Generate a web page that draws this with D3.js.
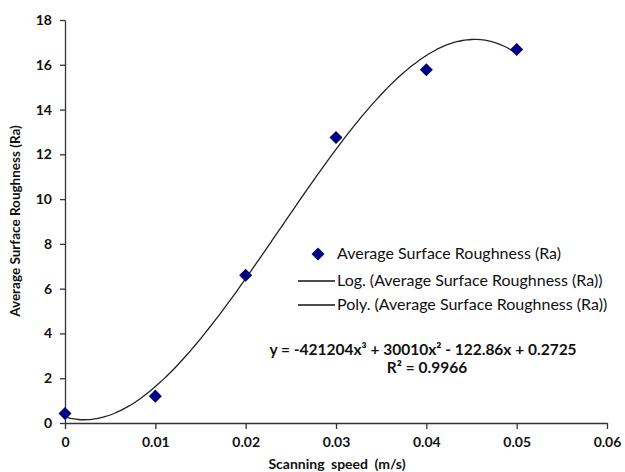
<!DOCTYPE html>
<html lang="en">
<head>
	<title>Surface roughness vs scanning speed</title>
	<script src="https://d3js.org/d3.v7.min.js" charset="utf-8"></script>
	<style>
		body {
			margin: 0;
			background: #fff;
		}
		text {
			font-family: Lato, "Open Sans", sans-serif;
			fill: #111;
		}
	</style>
</head>
<body>
	<div id="chart"></div>
<script>
	var speeds = [0, 0.01, 0.02, 0.03, 0.04, 0.05];
	var roughness = [0.42, 1.2, 6.6, 12.75, 15.78, 16.68];

	// Poly trendline coefficients as printed on the chart: a3, a2, a1, a0
	var polyCoef = [-421204, 30010, -122.86, 0.2725];

	var xTicks = [0, 0.01, 0.02, 0.03, 0.04, 0.05, 0.06];
	var yTicks = [0, 2, 4, 6, 8, 10, 12, 14, 16, 18];

	var legendLabels = [
		"Average Surface Roughness (Ra)",
		"Log. (Average Surface Roughness (Ra))",
		"Poly. (Average Surface Roughness (Ra))"
	];
	var equationText = "y = -421204x³ + 30010x² - 122.86x + 0.2725";
	var r2Text = "R² = 0.9966";

	var w = 625;
	var h = 472;

	var svg = d3.select("#chart")
		.append("svg")
		.attr("width", w)
		.attr("height", h);

	var xScale = d3.scaleLinear()
		.domain([0, 0.06])
		.range([65, 607]);

	var yScale = d3.scaleLinear()
		.domain([0, 18])
		.range([423, 20]);

	// x axis
	svg.append("g")
		.attr("transform", "translate(0," + yScale(0) + ")")
		.call(d3.axisBottom(xScale)
			.tickValues(xTicks)
			.tickSize(6)
			.tickSizeOuter(0)
			.tickPadding(8)
			.tickFormat(function(d){ return d === 0 ? "0" : d3.format(".2f")(d); }));

	// y axis
	svg.append("g")
		.attr("transform", "translate(" + xScale(0) + ",0)")
		.call(d3.axisLeft(yScale)
			.tickValues(yTicks)
			.tickSize(5)
			.tickSizeOuter(0)
			.tickPadding(8));

	svg.selectAll(".domain, .tick line")
		.attr("stroke", "#333")
		.attr("stroke-width", 1.3);
	svg.selectAll(".tick text")
		.attr("font-family", "Lato, sans-serif")
		.attr("font-weight", "bold")
		.attr("font-size", "14px")
		.attr("fill", "#111");

	// polynomial trendline, evaluated from the printed equation
	function poly(x){
		return polyCoef[0]*x*x*x + polyCoef[1]*x*x + polyCoef[2]*x + polyCoef[3];
	}
	var curveX = d3.range(0, 101).map(function(i){ return speeds[speeds.length-1] * i / 100; });

	svg.append("path")
		.datum(curveX)
		.attr("fill", "none")
		.attr("stroke", "#222")
		.attr("stroke-width", 1.3)
		.attr("d", d3.line()
			.x(function(d){ return xScale(d); })
			.y(function(d){ return yScale(poly(d)); })
			.curve(d3.curveBasis));

	// data points as diamonds
	var diamond = d3.symbol().type(d3.symbolSquare).size(85);
	svg.selectAll(".pt")
		.data(speeds)
		.enter()
		.append("path")
		.attr("class", "pt")
		.attr("d", diamond)
		.attr("fill", "#000080")
		.attr("transform", function(d, i){
			return "translate(" + xScale(d) + "," + yScale(roughness[i]) + ") rotate(45)";
		});

	// axis titles
	svg.append("text")
		.attr("text-anchor", "middle")
		.attr("x", 337)
		.attr("y", 469)
		.attr("font-size", "14px")
		.attr("font-weight", "bold")
		.attr("word-spacing", "3px")
		.text("Scanning speed (m/s)");

	svg.append("text")
		.attr("text-anchor", "middle")
		.attr("transform", "translate(20,221) rotate(-90)")
		.attr("font-size", "13.5px")
		.attr("font-weight", "bold")
		.text("Average Surface Roughness (Ra)");

	// legend
	var legend = svg.append("g");
	var legendY = [254, 281, 305];

	legend.append("path")
		.attr("d", diamond)
		.attr("fill", "#000080")
		.attr("transform", "translate(318," + legendY[0] + ") rotate(45)");

	legend.selectAll(".lg-line")
		.data([1, 2])
		.enter()
		.append("line")
		.attr("class", "lg-line")
		.attr("x1", 298)
		.attr("x2", 335)
		.attr("y1", function(d){ return legendY[d]; })
		.attr("y2", function(d){ return legendY[d]; })
		.attr("stroke", "#111")
		.attr("stroke-width", 1.3);

	legend.selectAll(".lg-text")
		.data(legendLabels)
		.enter()
		.append("text")
		.attr("class", "lg-text")
		.attr("x", 337)
		.attr("y", function(d, i){ return legendY[i] + 5; })
		.attr("font-size", "16px")
		.text(function(d){ return d; });

	// trendline equation
	svg.append("text")
		.attr("text-anchor", "middle")
		.attr("x", 423)
		.attr("y", 355)
		.attr("font-size", "15.5px")
		.attr("font-weight", "bold")
		.text(equationText);

	svg.append("text")
		.attr("text-anchor", "middle")
		.attr("x", 427)
		.attr("y", 373)
		.attr("font-size", "15.5px")
		.attr("font-weight", "bold")
		.text(r2Text);
</script>
</body>
</html>
